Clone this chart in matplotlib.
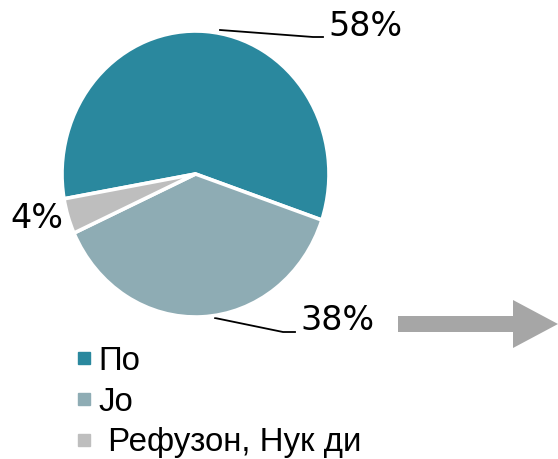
import matplotlib
matplotlib.use("Agg")
import matplotlib.pyplot as plt
from matplotlib.lines import Line2D
from matplotlib.patches import FancyArrow

categories = ["По", "Jo", " Рефузон, Нук ди"]
values = [58, 38, 4]
pct_labels = ["58%", "38%", "4%"]
colors = ["#2A889E", "#8EACB4", "#BEBEBE"]

W, H = 558, 459
fig = plt.figure(figsize=(W / 100, H / 100), dpi=100)

# overlay axes in pixel coordinates (y downward)
ov = fig.add_axes([0, 0, 1, 1])
ov.set_xlim(0, W)
ov.set_ylim(H, 0)
ov.axis("off")

# pie axes: bounding box of the (slightly elliptic) pie
L, R, T, B = 62, 329, 31, 317
axp = fig.add_axes([L / W, 1 - B / H, (R - L) / W, (B - T) / H])
wedges, _ = axp.pie(values, colors=colors, startangle=190, counterclock=False,
                    radius=1.0, wedgeprops=dict(edgecolor="white", linewidth=2.6))
axp.set_aspect("auto")
axp.set_xlim(-1, 1)
axp.set_ylim(-1, 1)
axp.axis("off")

# percentage labels with leader lines (pixel positions)
ov.plot([220, 313, 323], [30, 37, 37], color="black", lw=1.3)
ov.text(328, 27, pct_labels[0], fontsize=24, family="DejaVu Sans", va="center", ha="left")
ov.plot([215, 283, 295], [318, 332, 332], color="black", lw=1.3)
ov.text(300, 321, pct_labels[1], fontsize=24, family="DejaVu Sans", va="center", ha="left")
ov.text(10, 219, pct_labels[2], fontsize=24, family="DejaVu Sans", va="center", ha="left")

# arrow
ov.add_patch(FancyArrow(398, 324, 160, 0, width=16, head_width=48, head_length=45,
                        length_includes_head=True, color="#A6A6A6", lw=0))

# legend
handles = [Line2D([], [], marker="s", linestyle="none", markersize=8.5,
                  markerfacecolor=c, markeredgecolor=c) for c in colors]
leg = fig.legend(handles, categories, loc="upper left",
                 bbox_to_anchor=(74 / W, 1 - 346 / H), frameon=False,
                 prop=dict(family="Liberation Sans", size=23.8),
                 handlelength=0.6, handletextpad=0.15, labelspacing=0.29,
                 borderpad=0, borderaxespad=0)

fig.savefig("out.png", dpi=100)
